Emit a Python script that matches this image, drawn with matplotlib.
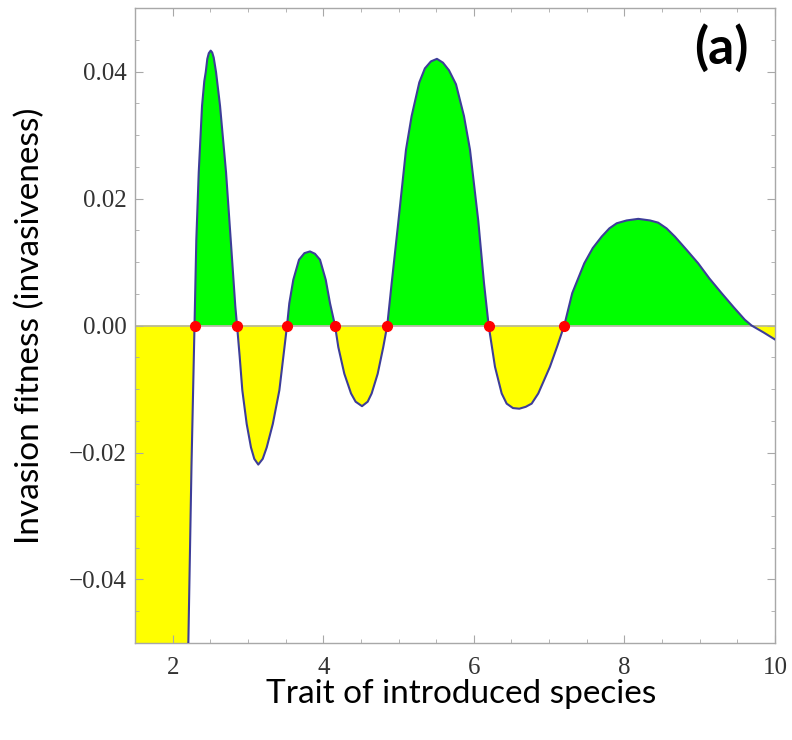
import matplotlib.pyplot as plt
import numpy as np
from matplotlib.ticker import MultipleLocator, FixedLocator

plt.rcParams['font.family'] = ['Liberation Serif', 'DejaVu Serif']

# values (first two points lie below the plotted range)
trait = [1.5, 2.0, 2.208, 2.25, 2.29, 2.314, 2.346, 2.39, 2.42, 2.439, 2.46,
         2.48, 2.505, 2.525, 2.545, 2.576, 2.629, 2.709, 2.771, 2.832, 2.855,
         2.89, 2.925, 2.983, 3.04, 3.084, 3.137, 3.196, 3.249, 3.33, 3.417,
         3.47, 3.519,
         3.549, 3.602, 3.678, 3.75, 3.824, 3.89, 3.957, 4.033, 4.09, 4.156,
         4.2, 4.28, 4.369, 4.43, 4.515, 4.59, 4.643, 4.723, 4.797, 4.85,
         4.909, 4.99, 5.099, 5.174, 5.276, 5.35, 5.43, 5.51, 5.59, 5.67,
         5.763, 5.869, 5.949, 6.059, 6.135, 6.197,
         6.281, 6.37, 6.436, 6.52, 6.604, 6.69, 6.768, 6.856, 7.011, 7.11,
         7.201,
         7.307, 7.467, 7.58, 7.698, 7.80, 7.897, 8.03, 8.184, 8.34, 8.449,
         8.56, 8.671, 8.82, 8.98, 9.13, 9.291, 9.45, 9.60, 9.69, 9.85, 10.0]
fitness = [-0.30, -0.12, -0.050, -0.022, 0.0, 0.0135, 0.0241, 0.0346, 0.0385,
           0.0399, 0.0420, 0.0429, 0.0433, 0.0430, 0.0422, 0.0399, 0.0346,
           0.0241, 0.0135, 0.0030, 0.0,
           -0.0049, -0.0102, -0.0155, -0.0192, -0.0210, -0.0219, -0.0210,
           -0.0192, -0.0155, -0.0102, -0.0049, 0.0,
           0.0035, 0.0072, 0.01036, 0.0114, 0.01167, 0.0113, 0.01036, 0.0072,
           0.0035, 0.0,
           -0.0034, -0.0076, -0.0107, -0.0120, -0.0127, -0.0120, -0.0107,
           -0.0076, -0.0034, 0.0,
           0.0067, 0.0155, 0.0277, 0.0330, 0.0383, 0.0405, 0.0416, 0.0420,
           0.0414, 0.0402, 0.0380, 0.0330, 0.0277, 0.0165, 0.0067, 0.0,
           -0.0065, -0.0107, -0.0123, -0.0130, -0.0131, -0.0128, -0.0123,
           -0.0107, -0.0065, -0.0032, 0.0,
           0.0051, 0.0098, 0.0122, 0.0140, 0.0153, 0.0161, 0.01655, 0.0168,
           0.01655, 0.0162, 0.0153, 0.0140, 0.0120, 0.0098, 0.0074, 0.0051,
           0.0029, 0.0009, 0.0, -0.0011, -0.0022]
roots = [2.29, 2.855, 3.519, 4.156, 4.85, 6.197, 7.201]

x = np.array(trait)
y = np.array(fitness)

fig = plt.figure(figsize=(7.92, 7.40), dpi=100)
ax = fig.add_axes([0.1705, 0.1311, 0.808, 0.858])

ax.fill_between(x, y, 0, where=y >= 0, interpolate=True, color='#00ff00', lw=0)
ax.fill_between(x, y, 0, where=y <= 0, interpolate=True, color='#ffff00', lw=0)
ax.axhline(0, color='#b4b4a0', lw=1.2, zorder=2)
ax.plot(x, y, color='#3d3d99', lw=1.5, zorder=3, solid_joinstyle='round')
ax.plot(roots, np.zeros(len(roots)), 'o', color='#ff0000', ms=7, zorder=4)

ax.set_xlim(1.5, 10)
ax.set_ylim(-0.05, 0.05)
ax.xaxis.set_major_locator(FixedLocator([2, 4, 6, 8, 10]))
ax.xaxis.set_minor_locator(MultipleLocator(0.5))
ax.yaxis.set_major_locator(FixedLocator([-0.04, -0.02, 0.0, 0.02, 0.04]))
ax.yaxis.set_minor_locator(MultipleLocator(0.005))
ax.yaxis.set_major_formatter(plt.FuncFormatter(
    lambda v, p: f"{v:.2f}".replace('-', '\u2212') if abs(v) > 1e-9 else "0.00"))

for s in ax.spines.values():
    s.set_color('#a8a8a8')
    s.set_linewidth(1.0)
ax.tick_params(which='both', direction='in', top=True, right=True, color='#a8a8a8')
ax.tick_params(which='major', length=6, width=0.8, labelsize=18, labelcolor='#333333')
ax.tick_params(which='minor', length=3, width=0.6)
ax.tick_params(axis='x', pad=10)
ax.tick_params(axis='y', pad=6)

ax.set_xlabel('Trait of introduced species', family='Lato', fontsize=24)
ax.set_ylabel('Invasion fitness (invasiveness)', family='Lato', fontsize=24)
ax.xaxis.label.set_va('center')
ax.yaxis.label.set_va('center')
ax.xaxis.set_label_coords(0.509, -0.08)
ax.yaxis.set_label_coords(-0.164, 0.5)
ax.text(0.958, 0.975, '(a)', transform=ax.transAxes, ha='right', va='top',
        family='Lato', fontweight='bold', fontsize=37)

fig.savefig('out.png', dpi=100)
